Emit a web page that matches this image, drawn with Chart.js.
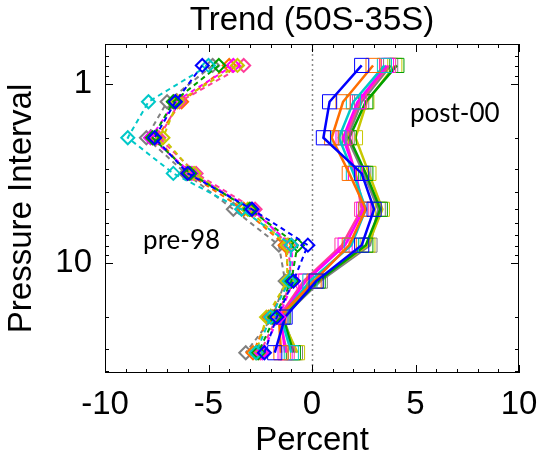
<!DOCTYPE html>
<html>
<head>
<meta charset="utf-8">
<script src="https://cdn.jsdelivr.net/npm/chart.js@4.4.0/dist/chart.umd.min.js"></script>
<style>
  html, body { margin: 0; padding: 0; background: #fff; }
  #wrap { width: 538px; height: 455px; }
</style>
</head>
<body>
<div id="wrap"><canvas id="trend_chart" width="538" height="455"></canvas></div>
<script>
// pressure interval centres (log spaced)
var pressure = [0.79, 1.26, 2.0, 3.16, 5.01, 7.94, 12.6, 20.0, 31.6];
var xTicks = [-10, -5, 0, 5, 10];
var yTicks = [1, 10];

// pre-98 trends (%), dashed + diamonds
var preBlue    = [-5.3, -6.6, -7.6, -6.0, -2.9, -0.2, -0.9, -1.7, -2.3];
var preCyan    = [-5.0, -7.9, -8.9, -6.7, -3.4, -1.0, -1.1, -2.0, -2.7];
var preGreen   = [-4.5, -6.7, -7.7, -5.9, -3.0, -0.7, -1.0, -1.8, -2.6];
var preYellow  = [-3.6, -6.5, -7.2, -5.7, -3.1, -1.2, -1.2, -2.2, -2.7];
var preMagenta = [-3.8, -6.6, -7.8, -5.8, -2.9, -1.0, -0.9, -1.6, -2.4];
var prePink    = [-3.3, -6.4, -7.4, -5.6, -2.75, -1.15, -1.0, -1.7, -2.5];
var preOrange  = [-4.0, -6.3, -7.5, -6.0, -3.3, -1.3, -1.1, -2.1, -2.85];
var preGray    = [-4.8, -7.0, -8.0, -6.1, -3.8, -1.6, -1.3, -1.9, -3.2];

// post-00 trends (%), solid + squares
var postBlue    = [2.4, 0.85, 0.55, 2.4, 3.0, 2.4, 0.2, -1.3, -1.8];
var postOrange  = [2.95, 1.5, 0.95, 1.8, 2.6, 1.8, 0.1, -1.6, -1.5];
var postCyan    = [3.5, 2.0, 1.3, 2.0, 2.6, 1.9, -0.1, -1.5, -1.0];
var postMagenta = [3.6, 2.2, 1.5, 2.1, 2.5, 1.6, -0.3, -1.5, -1.3];
var postPink    = [3.7, 2.3, 1.6, 2.1, 2.4, 1.45, -0.4, -1.6, -1.2];
var postGreen   = [4.1, 2.6, 1.8, 2.6, 3.3, 2.6, 0.3, -1.4, -0.9];
var postYellow  = [4.0, 2.65, 2.1, 2.75, 3.4, 2.7, 0.2, -1.5, -0.7];
var postGray    = [3.8, 2.4, 1.7, 2.5, 3.2, 2.8, 0.4, -1.4, -0.8];

var BLUE = "#0000ff", CYAN = "#00c8c8", GREEN = "#00a000", YELLOW = "#c8c800",
    MAGENTA = "#ff00ff", PINK = "#ff3c9b", ORANGE = "#ff6e00", GRAY = "#808080";

function toPoints(vals){
  return vals.map(function(v, i){ return {x: v, y: pressure[i]}; });
}

function preSet(vals, color){
  return {
    data: toPoints(vals),
    showLine: true,
    borderColor: color,
    borderWidth: 2,
    borderDash: [5, 4],
    pointStyle: "rectRot",
    pointRadius: 6.5,
    pointBorderWidth: 2,
    pointBorderColor: color,
    pointBackgroundColor: "rgba(0,0,0,0)"
  };
}

function postSet(vals, color){
  return {
    data: toPoints(vals),
    showLine: true,
    borderColor: color,
    borderWidth: 2.5,
    pointStyle: "rect",
    pointRadius: 10,
    pointBorderWidth: 1,
    pointBorderColor: color,
    pointBackgroundColor: "rgba(0,0,0,0)"
  };
}

var datasets = [
  preSet(preBlue, BLUE), preSet(preCyan, CYAN), preSet(preGreen, GREEN),
  preSet(preYellow, YELLOW), preSet(preMagenta, MAGENTA), preSet(prePink, PINK),
  preSet(preOrange, ORANGE), preSet(preGray, GRAY),
  postSet(postBlue, BLUE), postSet(postOrange, ORANGE), postSet(postCyan, CYAN),
  postSet(postMagenta, MAGENTA), postSet(postPink, PINK), postSet(postGreen, GREEN),
  postSet(postYellow, YELLOW), postSet(postGray, GRAY)
];

// box, inward ticks, zero line, title and the two labels
var framePlugin = {
  id: "frame",
  beforeDatasetsDraw: function(chart){
    var ctx = chart.ctx, a = chart.chartArea;
    var xs = chart.scales.x;
    ctx.save();
    ctx.strokeStyle = "#888";
    ctx.lineWidth = 1.5;
    ctx.setLineDash([2, 3]);
    var zx = Math.round(xs.getPixelForValue(0)) + 0.5;
    ctx.beginPath(); ctx.moveTo(zx, a.top); ctx.lineTo(zx, a.bottom); ctx.stroke();
    ctx.restore();
  },
  afterDraw: function(chart){
    var ctx = chart.ctx, a = chart.chartArea;
    var xs = chart.scales.x, ys = chart.scales.y;
    ctx.save();
    ctx.strokeStyle = "#000";
    ctx.lineWidth = 1;
    ctx.strokeRect(a.left + 0.5, a.top + 0.5, a.right - a.left - 1, a.bottom - a.top - 1);
    ctx.beginPath();
    for (var v = -10; v <= 10; v++){
      var len = (v % 5 === 0) ? 8 : 4;
      var px = Math.round(xs.getPixelForValue(v)) + 0.5;
      ctx.moveTo(px, a.bottom); ctx.lineTo(px, a.bottom - len);
      ctx.moveTo(px, a.top); ctx.lineTo(px, a.top + len);
    }
    var decades = [0.1, 1, 10];
    decades.forEach(function(d){
      for (var m = 1; m <= 9; m++){
        var val = d * m;
        if (val < ys.min || val > ys.max) continue;
        var len = (m === 1) ? 8 : 4;
        var py = Math.round(ys.getPixelForValue(val)) + 0.5;
        ctx.moveTo(a.left, py); ctx.lineTo(a.left + len, py);
        ctx.moveTo(a.right, py); ctx.lineTo(a.right - len, py);
      }
    });
    ctx.stroke();

    ctx.fillStyle = "#000";
    ctx.textAlign = "center";
    ctx.textBaseline = "middle";
    ctx.font = "33px 'Liberation Sans', Arial, sans-serif";
    ctx.fillText("Trend (50S-35S)", (a.left + a.right) / 2, 21);

    ctx.font = "26px Lato, 'Open Sans', sans-serif";
    ctx.fillText("pre-98", xs.getPixelForValue(-6.3), ys.getPixelForValue(7.5));
    ctx.fillText("post-00", xs.getPixelForValue(6.9), ys.getPixelForValue(1.47));
    ctx.restore();
  }
};

var tickFont = {family: "'Liberation Sans', Arial, sans-serif", size: 33};

var trend_chart = new Chart("trend_chart", {
  type: "scatter",
  data: {datasets: datasets},
  plugins: [framePlugin],
  options: {
    responsive: false,
    animation: false,
    layout: {padding: {top: 44, right: 19, left: 0, bottom: 0}},
    plugins: {
      legend: {display: false},
      tooltip: {enabled: false},
      title: {display: false}
    },
    scales: {
      x: {
        type: "linear",
        min: -10,
        max: 10,
        grid: {display: false, drawTicks: false},
        border: {display: false},
        afterBuildTicks: function(scale){
          scale.ticks = xTicks.map(function(v){ return {value: v}; });
        },
        afterFit: function(scale){
          scale.height = 82;
          scale.paddingLeft = 0;
          scale.paddingRight = 0;
        },
        ticks: {color: "#000", font: tickFont, padding: 12, maxRotation: 0,
                callback: function(v){ return String(v); }},
        title: {display: true, text: "Percent", color: "#000", font: tickFont,
                padding: {top: 0, bottom: -6}}
      },
      y: {
        type: "logarithmic",
        reverse: true,
        min: 0.6,
        max: 41,
        grid: {display: false, drawTicks: false},
        border: {display: false},
        afterBuildTicks: function(scale){
          scale.ticks = yTicks.map(function(v){ return {value: v}; });
        },
        afterFit: function(scale){
          scale.width = 105;
          scale.paddingTop = 0;
          scale.paddingBottom = 0;
        },
        ticks: {color: "#000", font: tickFont, padding: 13,
                callback: function(v){ return String(v); }},
        title: {display: true, text: "Pressure Interval", color: "#000", font: tickFont,
                padding: {top: 2, bottom: 0}}
      }
    }
  }
});
</script>
</body>
</html>
